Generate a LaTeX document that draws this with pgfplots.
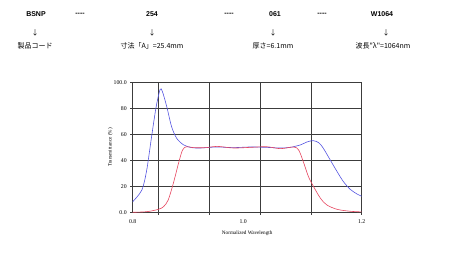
\documentclass[border=0pt]{standalone}
\usepackage{fontspec}
\setmainfont{Liberation Serif}
\newfontfamily\hsans{Liberation Sans}
\newfontfamily\cjk{Noto Sans CJK JP}
\usepackage{pgfplots}
\pgfplotsset{compat=1.18}
\definecolor{bl}{RGB}{85,85,225}
\definecolor{rd}{RGB}{230,70,95}
\definecolor{gr}{RGB}{60,60,60}
\begin{document}
\begin{tikzpicture}
\useasboundingbox (0,0) rectangle (474pt,276pt);
% header row 1
\begin{scope}[every node/.style={inner sep=0pt, font=\hsans\bfseries\fontsize{7}{8}\selectfont}]
\node at (36pt,262pt) {BSNP};
\node at (80pt,262pt) {-{}-{}-{}-};
\node at (152pt,262pt) {254};
\node at (229pt,262pt) {-{}-{}-{}-};
\node at (275pt,262pt) {061};
\node at (322pt,262pt) {-{}-{}-{}-};
\node at (382pt,262pt) {W1064};
\end{scope}
\begin{scope}[every node/.style={inner sep=0pt, font=\cjk\fontsize{7}{8}\selectfont}]
\node at (35pt,243pt) {↓};
\node at (152pt,243pt) {↓};
\node at (273pt,243pt) {↓};
\node at (386pt,243pt) {↓};
\node at (35pt,230pt) {製品コード};
\node at (152pt,230pt) {寸法「A」=25.4mm};
\node at (273pt,230pt) {厚さ=6.1mm};
\node at (383pt,230pt) {波長"λ"=1064nm};
\end{scope}
\begin{axis}[
  scale only axis,
  width=229pt, height=129.6pt,
  at={(132.7pt,63.7pt)}, anchor=south west,
  xmin=0.8, xmax=1.2, ymin=0, ymax=100,
  axis line style={gr, line width=0.6pt},
  xtick={0.8446,0.9339,1.0231,1.1124,1.2},
  xticklabels={},
  extra x ticks={0.8,0.993,1.2},
  extra x tick labels={0.8,1.0,1.2},
  extra x tick style={grid=none, major tick length=0pt},
  ytick={0,20,40,60,80,100},
  yticklabels={0.0,20,40,60,80,100.0},
  xmajorgrids, ymajorgrids,
  grid style={gr, line width=0.6pt},
  major tick length=2.5pt,
  tick align=outside,
  tick style={gr, line width=0.6pt},
  xtick pos=bottom, ytick pos=left,
  /pgf/number format/assume math mode=true,
  tick label style={font=\fontsize{5.8}{6}\selectfont},
  xticklabel style={yshift=-4pt},
  xlabel={Normalized Wavelength},
  ylabel={Transmittance (\%)},
  label style={font=\fontsize{5.2}{6}\selectfont},
  xlabel style={yshift=2pt},
  ylabel style={yshift=-6pt},
  clip=true,
]
\addplot[bl, line width=0.6pt, smooth, tension=0.5] coordinates {
(0.800,8.2) (0.816,17.2) (0.8245,32.6) (0.833,58.4) (0.841,81.5) (0.848,94.9)
(0.852,93) (0.8595,81.5) (0.868,66) (0.877,57) (0.889,52) (0.903,49.9)
(0.918,49.6) (0.947,50.4) (0.976,49.9) (1.005,50.4) (1.034,50.1) (1.058,49.6)
(1.075,50.1) (1.093,52) (1.104,54.2) (1.115,55.3) (1.125,53.7) (1.133,49.4)
(1.145,40.4) (1.157,31.4) (1.168,23.7) (1.180,17.7) (1.192,14.1) (1.200,12.4)
};
\addplot[rd, line width=0.6pt, smooth, tension=0.5] coordinates {
(0.800,0) (0.825,0.5) (0.845,2.3) (0.854,4.4) (0.862,9.5) (0.871,22.4)
(0.880,37.8) (0.887,48) (0.894,50.6) (0.906,49.9) (0.929,49.9) (0.947,50.9)
(0.976,49.6) (1.005,50.1) (1.034,50.6) (1.058,49.1) (1.081,50.4) (1.090,48)
(1.099,37.8) (1.107,27.5) (1.116,19.8) (1.128,10.8) (1.139,5.7) (1.157,2.3)
(1.180,0.8) (1.200,0.3)
};
\end{axis}
\end{tikzpicture}
\end{document}
